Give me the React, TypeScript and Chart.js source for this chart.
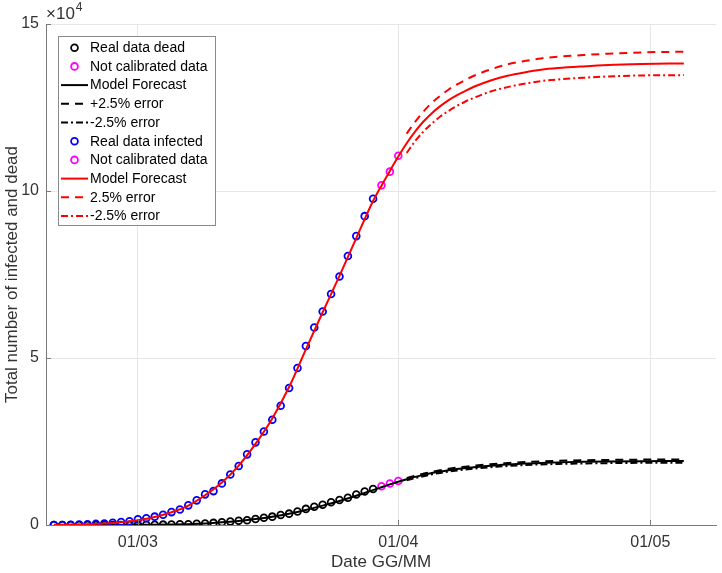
import React, { useEffect, useRef } from "react";
import { Chart, registerables } from "chart.js";

Chart.register(...registerables);

const FONT = '"Liberation Sans", Arial, Helvetica, sans-serif';
const TEXT_COLOR = "#333333";
const AXIS_COLOR = "#7a7a7a";
const GRID_COLOR = "#e6e6e6";

// ---- data (x = days relative to 01/03) ----
const REAL_START_DAY = -10;
const infectedReal = [
  3, 20, 79, 150, 229, 322, 400, 650, 888, 1128,
  1694, 2036, 2502, 3089, 3858, 4636, 5883, 7375, 9172, 10149,
  12462, 15113, 17660, 21157, 24747, 27980, 31506, 35713, 41035, 47021,
  53578, 59138, 63927, 69176, 74386, 80539, 86498, 92472, 97689,
];
const deadReal = [
  0, 1, 2, 3, 7, 10, 12, 17, 21, 29,
  34, 52, 79, 107, 148, 197, 233, 366, 463, 631,
  827, 1016, 1266, 1441, 1809, 2158, 2503, 2978, 3405, 4032,
  4825, 5476, 6077, 6820, 7503, 8165, 9134, 10023, 10779,
];
const uncalDays = [29, 30, 31];
const infectedUncal = [101739, 105792, 110574];
const deadUncal = [11591, 12428, 13155];

const modelDays = [
  -10, -8, -6, -4, -2, 0, 2, 4, 6, 8, 10, 12, 14, 16, 18, 20, 22, 24, 26, 28,
  29, 30, 31, 32, 33, 34, 35, 36, 37, 38, 39, 40, 42, 44, 46, 48, 50, 53, 56, 60, 65,
];
const infectedModel = [
  50, 120, 260, 480, 850, 1450, 2400, 3800, 5800, 8900,
  12700, 17800, 24300, 31900, 41300, 52600, 63700, 74600, 85900, 97000,
  101600, 106000, 110300, 114300, 117800, 120800, 123300, 125400, 127200, 128700,
  130000, 131200, 133100, 134500, 135500, 136300, 136800, 137300, 137700, 138000, 138200,
];
const deadModel = [
  0, 2, 6, 12, 22, 38, 75, 140, 250, 450,
  790, 1230, 1780, 2480, 3370, 4500, 5800, 7200, 8750, 10450,
  11300, 12150, 12950, 13700, 14400, 15000, 15550, 16000, 16400, 16750,
  17050, 17300, 17750, 18100, 18400, 18600, 18750, 18900, 19000, 19100, 19150,
];

const errorDays = [32, 33, 34, 35, 36, 37, 38, 39, 40, 42, 44, 46, 48, 50, 53, 56, 60, 65];
const infectedUpper = [
  117200, 120700, 123800, 126400, 128500, 130400, 131900, 133300, 134500,
  136400, 137900, 138900, 139700, 140200, 140700, 141100, 141500, 141700,
];
const infectedLower = [
  111400, 114900, 117800, 120200, 122300, 124000, 125500, 126800, 127900,
  129800, 131100, 132100, 132900, 133400, 133900, 134300, 134600, 134700,
];
const deadUpper = [
  14040, 14760, 15375, 15940, 16400, 16810, 17170, 17475, 17730,
  18195, 18550, 18860, 19065, 19220, 19370, 19475, 19580, 19630,
];
const deadLower = [
  13360, 14040, 14625, 15160, 15600, 15990, 16330, 16625, 16870,
  17305, 17650, 17940, 18135, 18280, 18430, 18525, 18620, 18670,
];

const xTickDays = [0, 31, 61];
const xTickLabels = ["01/03", "01/04", "01/05"];
const yTickValues = [0, 50000, 100000, 150000];
const yTickLabels = ["0", "5", "10", "15"];

const X_MIN = -10.94;
const X_MAX = 68.85;

const DASH = [8, 6];
const DASH_DOT = [7, 3, 2, 3];

function pts(days: number[], vals: number[]) {
  return vals.map((v, i) => ({ x: days[i], y: v }));
}
function seq(start: number, vals: number[]) {
  return vals.map((v, i) => ({ x: start + i, y: v }));
}

function markerSet(label: string, data: any[], color: string) {
  return {
    label,
    data,
    showLine: false,
    borderColor: color,
    backgroundColor: "transparent",
    pointBorderColor: color,
    pointBackgroundColor: "transparent",
    pointRadius: 3.4,
    pointBorderWidth: 1.8,
    pointStyle: "circle",
  };
}
function lineSet(label: string, data: any[], color: string, dash: number[]) {
  return {
    label,
    data,
    showLine: true,
    borderColor: color,
    backgroundColor: color,
    borderWidth: 2,
    borderDash: dash,
    pointRadius: 0,
    cubicInterpolationMode: "monotone",
    fill: false,
  };
}

const overlayPlugin = {
  id: "matlabOverlay",
  afterDraw(chart: any) {
    const { ctx, chartArea, scales } = chart;
    const { left, top, bottom } = chartArea;
    ctx.save();
    // inward tick marks
    ctx.strokeStyle = AXIS_COLOR;
    ctx.lineWidth = 1;
    ctx.setLineDash([]);
    xTickDays.forEach((d) => {
      const px = Math.round(scales.x.getPixelForValue(d)) + 0.5;
      ctx.beginPath();
      ctx.moveTo(px, bottom);
      ctx.lineTo(px, bottom - 5);
      ctx.stroke();
    });
    yTickValues.forEach((v) => {
      const py = Math.round(scales.y.getPixelForValue(v)) + 0.5;
      ctx.beginPath();
      ctx.moveTo(left, py);
      ctx.lineTo(left + 5, py);
      ctx.stroke();
    });

    // exponent label
    ctx.fillStyle = TEXT_COLOR;
    ctx.textAlign = "left";
    ctx.textBaseline = "middle";
    ctx.font = `17px ${FONT}`;
    const base = "\u00d710";
    const bx = left;
    ctx.fillText(base, bx, top - 10);
    const bw = ctx.measureText(base).width;
    ctx.font = `12px ${FONT}`;
    ctx.fillText("4", bx + bw + 1, top - 16);

    // legend
    const boxL = left + 12;
    const boxT = top + 12;
    const boxW = 157;
    const boxH = 189;
    ctx.fillStyle = "#ffffff";
    ctx.fillRect(boxL, boxT, boxW, boxH);
    ctx.strokeStyle = "#8a8a8a";
    ctx.lineWidth = 1;
    ctx.strokeRect(boxL + 0.5, boxT + 0.5, boxW, boxH);

    const rowH = 18.7;
    const lineX0 = boxL + 3;
    const lineX1 = boxL + 30;
    const textX = boxL + 32;
    ctx.font = `14px ${FONT}`;
    chart.data.datasets.forEach((ds: any, i: number) => {
      const y = boxT + 11.7 + i * rowH;
      if (ds.showLine === false) {
        ctx.setLineDash([]);
        ctx.strokeStyle = ds.pointBorderColor;
        ctx.lineWidth = ds.pointBorderWidth;
        ctx.beginPath();
        ctx.arc((lineX0 + lineX1) / 2, y, ds.pointRadius, 0, Math.PI * 2);
        ctx.stroke();
      } else {
        ctx.setLineDash(ds.borderDash || []);
        ctx.strokeStyle = ds.borderColor;
        ctx.lineWidth = ds.borderWidth;
        ctx.beginPath();
        ctx.moveTo(lineX0, y);
        ctx.lineTo(lineX1, y);
        ctx.stroke();
      }
      ctx.setLineDash([]);
      ctx.fillStyle = "#000000";
      ctx.textBaseline = "middle";
      ctx.fillText(ds.label, textX, y + 0.5);
    });
    ctx.restore();
  },
};

export default function App() {
  const canvasRef = useRef<HTMLCanvasElement | null>(null);

  useEffect(() => {
    if (!canvasRef.current) return;
    Chart.defaults.font.family = FONT;
    const datasets: any[] = [
      markerSet("Real data dead", seq(REAL_START_DAY, deadReal), "#000000"),
      markerSet("Not calibrated data", pts(uncalDays, deadUncal), "#ff00ff"),
      lineSet("Model Forecast", pts(modelDays, deadModel), "#000000", []),
      lineSet("+2.5% error", pts(errorDays, deadUpper), "#000000", DASH),
      lineSet("-2.5% error", pts(errorDays, deadLower), "#000000", DASH_DOT),
      markerSet("Real data infected", seq(REAL_START_DAY, infectedReal), "#0000ff"),
      markerSet("Not calibrated data", pts(uncalDays, infectedUncal), "#ff00ff"),
      lineSet("Model Forecast", pts(modelDays, infectedModel), "#ff0000", []),
      lineSet("2.5% error", pts(errorDays, infectedUpper), "#ff0000", DASH),
      lineSet("-2.5% error", pts(errorDays, infectedLower), "#ff0000", DASH_DOT),
    ];
    datasets.forEach((d, i) => (d.order = -i));

    const chart = new Chart(canvasRef.current, {
      type: "line",
      data: { datasets },
      options: {
        responsive: false,
        animation: false,
        events: [],
        layout: { padding: { top: 24, right: 5, left: 0, bottom: 0 } },
        plugins: {
          legend: { display: false },
          tooltip: { enabled: false },
        },
        scales: {
          x: {
            type: "linear",
            min: X_MIN,
            max: X_MAX,
            afterBuildTicks: (s: any) => {
              s.ticks = xTickDays.map((v) => ({ value: v }));
            },
            afterFit: (s: any) => {
              s.height = 48;
            },
            ticks: {
              autoSkip: false,
              maxRotation: 0,
              padding: 8,
              color: TEXT_COLOR,
              font: { size: 16, family: FONT },
              callback: (v: any) => {
                const i = xTickDays.indexOf(Number(v));
                return i >= 0 ? xTickLabels[i] : "";
              },
            },
            grid: { color: GRID_COLOR, drawTicks: false, lineWidth: 1 },
            border: { display: true, color: AXIS_COLOR, width: 1 },
            title: {
              display: true,
              text: "Date GG/MM",
              color: TEXT_COLOR,
              font: { size: 17, family: FONT },
              padding: { top: 0, bottom: 0 },
            },
          },
          y: {
            type: "linear",
            min: 0,
            max: 150000,
            afterBuildTicks: (s: any) => {
              s.ticks = yTickValues.map((v) => ({ value: v }));
            },
            afterFit: (s: any) => {
              s.width = 46;
            },
            ticks: {
              padding: 7,
              color: TEXT_COLOR,
              font: { size: 16, family: FONT },
              callback: (v: any) => {
                const i = yTickValues.indexOf(Number(v));
                return i >= 0 ? yTickLabels[i] : "";
              },
            },
            grid: { color: GRID_COLOR, drawTicks: false, lineWidth: 1 },
            border: { display: true, color: AXIS_COLOR, width: 1 },
            title: {
              display: true,
              text: "Total number of infected and dead",
              color: TEXT_COLOR,
              font: { size: 17, family: FONT },
              padding: { top: 2, bottom: 0 },
            },
          },
        },
      },
      plugins: [overlayPlugin],
    } as any);
    return () => chart.destroy();
  }, []);

  return (
    <div style={{ position: "absolute", left: 0, top: 0, width: 722, height: 573, background: "#ffffff" }}>
      <canvas ref={canvasRef} width={722} height={573} style={{ display: "block" }} />
    </div>
  );
}
